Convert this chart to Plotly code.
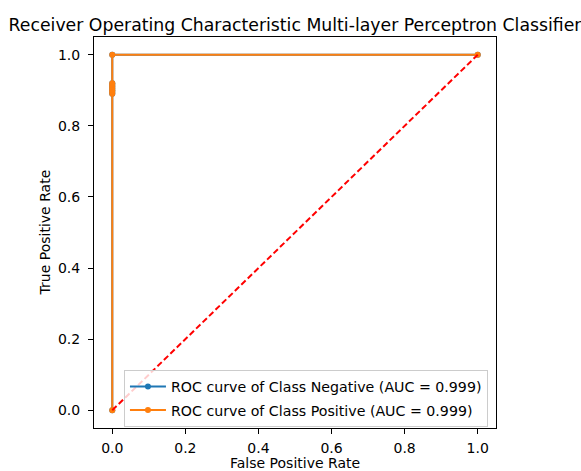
import plotly.graph_objects as go

# ROC points for the MLP classifier (binary task, both classes share the same curve)
fpr_negative = [0.0, 0.0, 0.0, 0.0, 0.0, 0.0, 0.0, 0.0, 0.0, 1.0]
tpr_negative = [0.0, 0.89, 0.895, 0.90, 0.905, 0.91, 0.915, 0.92, 1.0, 1.0]
fpr_positive = [0.0, 0.0, 0.0, 0.0, 0.0, 0.0, 0.0, 0.0, 0.0, 1.0]
tpr_positive = [0.0, 0.89, 0.895, 0.90, 0.905, 0.91, 0.915, 0.92, 1.0, 1.0]
auc_negative = 0.999
auc_positive = 0.999
chance_x = [0.0, 1.0]
chance_y = [0.0, 1.0]
tick_vals = [0.0, 0.2, 0.4, 0.6, 0.8, 1.0]
tick_text = ["0.0", "0.2", "0.4", "0.6", "0.8", "1.0"]

FONT = "DejaVu Sans"

fig = go.Figure()
fig.add_trace(go.Scatter(
    x=fpr_negative, y=tpr_negative, mode="lines+markers",
    name=f"ROC curve of Class Negative (AUC = {auc_negative:.3f})",
    legendgroup="neg",
    line=dict(color="#1f77b4", width=2),
    marker=dict(color="#1f77b4", size=6),
))
fig.add_trace(go.Scatter(
    x=fpr_positive, y=tpr_positive, mode="lines+markers",
    name=f"ROC curve of Class Positive (AUC = {auc_positive:.3f})",
    legendgroup="pos",
    line=dict(color="#ff7f0e", width=2),
    marker=dict(color="#ff7f0e", size=6),
))
fig.add_trace(go.Scatter(
    x=chance_x, y=chance_y, mode="lines", showlegend=False,
    line=dict(color="#ff0000", width=2, dash="6px,3px"),
))

axis_common = dict(
    range=[-0.05, 1.05], tickvals=tick_vals, ticktext=tick_text,
    showgrid=False, zeroline=False, showline=True, mirror=True,
    linecolor="black", linewidth=1, ticks="outside", ticklen=5,
    tickwidth=1, tickcolor="black", automargin=False,
    tickfont=dict(family=FONT, size=14, color="black"),
)

fig.update_layout(
    width=581, height=471,
    margin=dict(l=94, r=85, t=37, b=43),
    paper_bgcolor="white", plot_bgcolor="white",
    font=dict(family=FONT, size=14, color="black"),
    title=dict(
        text="Receiver Operating Characteristic Multi-layer Perceptron Classifier",
        font=dict(family=FONT, size=17.3, color="black"),
        x=0.5, xref="paper", xanchor="center",
        y=1.0, yref="paper", yanchor="bottom", pad=dict(b=6),
    ),
    xaxis=dict(axis_common, ticklabelstandoff=2),
    yaxis=dict(axis_common, ticklabelstandoff=5),
    legend=dict(
        x=0.98, y=0.003, xanchor="right", yanchor="bottom",
        bgcolor="rgba(255,255,255,0.8)", bordercolor="#cccccc", borderwidth=1,
        font=dict(family=FONT, size=14.2, color="black"),
        itemwidth=36, tracegroupgap=2,
    ),
    showlegend=True,
)

# Axis titles placed as paper-anchored annotations
fig.add_annotation(
    text="False Positive Rate", xref="paper", yref="paper",
    x=0.5, y=-0.0895, xanchor="center", yanchor="middle",
    showarrow=False, font=dict(family=FONT, size=14, color="black"),
)
fig.add_annotation(
    text="True Positive Rate", xref="paper", yref="paper",
    x=-0.122, y=0.5, xanchor="center", yanchor="middle", textangle=-90,
    showarrow=False, font=dict(family=FONT, size=14, color="black"),
)

fig.write_html("out.html")
